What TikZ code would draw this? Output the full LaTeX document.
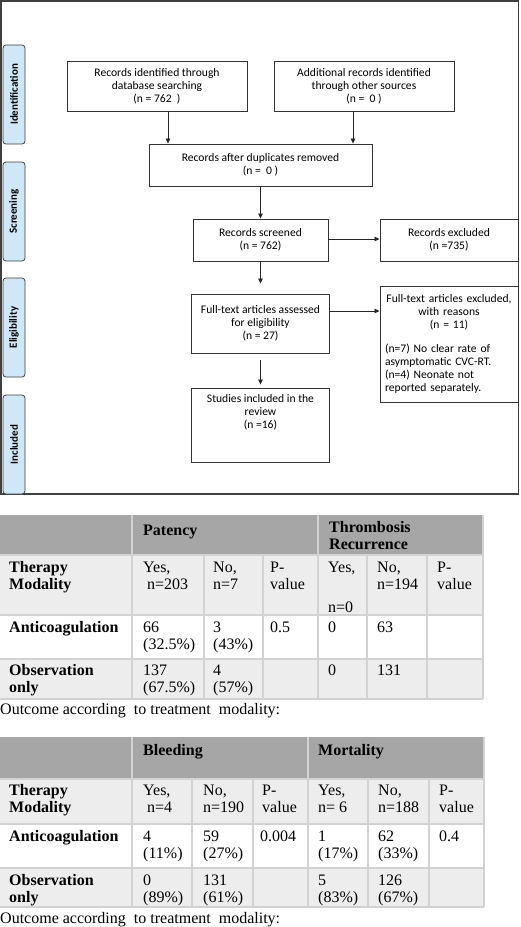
\documentclass[tikz,border=0pt]{standalone}
\usepackage{fontspec}
\setmainfont{Liberation Serif}
\newfontfamily\calib{Carlito}
\usetikzlibrary{arrows.meta}
\definecolor{hdr}{HTML}{A6A6A6}
\definecolor{lite}{HTML}{EDEDED}
\definecolor{sidefill}{HTML}{CFE8F8}
\definecolor{gridc}{HTML}{D2D2D2}
\newcommand\cl[1]{\begin{tabular}[t]{@{}l@{}}#1\end{tabular}}
\begin{document}
\begin{tikzpicture}[x=1pt,y=-1pt,
 box/.style={draw=black!80,line width=0.9pt,fill=white,inner sep=0pt,align=center,font=\calib\fontsize{11.6}{13}\selectfont},
 ftxt/.style={inner sep=0pt,align=center,font=\calib\fontsize{11.6}{13}\selectfont},
 sidelab/.style={draw=black!75,line width=0.8pt,fill=sidefill,rounded corners=3pt,rotate=90,inner sep=0pt,font=\calib\bfseries\fontsize{11}{12}\selectfont},
 arr/.style={-{Triangle[length=5pt,width=4.5pt]},line width=0.8pt,draw=black!85},
 cell/.style={anchor=base west,inner sep=0pt,font=\fontsize{16}{17}\selectfont},
 bcell/.style={cell,font=\bfseries\fontsize{16}{17}\selectfont},
 gline/.style={draw=gridc,line width=1.2pt},
]
\useasboundingbox (0,0) rectangle (520,927);
% outer frame
\draw[black!75,line width=1.2pt] (1,1) rectangle (518.5,494);
% side labels
\node[sidelab,minimum width=99pt,minimum height=22pt] (sid) at (14,94.5) {Identification};
\node[sidelab,minimum width=99pt,minimum height=22pt] (sscr) at (14,211.5) {Screening};
\node[sidelab,minimum width=99pt,minimum height=22pt] (selig) at (14,327.5) {Eligibility};
\node[sidelab,minimum width=99pt,minimum height=22pt] (sincl) at (14,444.5) {Included};
% boxes
\node[box,minimum width=180pt,minimum height=50pt] (b1) at (157,86) {Records identified through\\database searching\\(n = 762 \ )};
\node[box,minimum width=180pt,minimum height=50pt] (b2) at (364,86) {Additional records identified\\through other sources\\(n = \ 0 )};
\node[box,minimum width=223pt,minimum height=42pt] (b3) at (260.5,165) {Records after duplicates removed\\(n = \ 0 )};
\node[box,minimum width=135pt,minimum height=42pt] (b4) at (260.5,240) {Records screened\\(n = 762)};
\node[box,minimum width=138pt,minimum height=42pt] (b5) at (449,240) {Records excluded\\(n =735)};
\node[box,minimum width=138pt,minimum height=59pt] (b6) at (260.5,323.5) {Full-text articles assessed\\for eligibility\\(n = 27)};
\node[box,minimum width=138pt,minimum height=116pt,text width=128pt,align=left] (b7) at (449,344) {{\centering Full-text articles excluded,\\with reasons\\(n = 11)\par}\vspace{11pt}\raggedright (n=7) No clear rate of\\asymptomatic CVC-RT.\\(n=4) Neonate not\\reported separately.\par};
\node[box,minimum width=138pt,minimum height=74pt] (b8) at (260.5,425) {};
\node[ftxt,anchor=north] (b8t) at ([yshift=-7pt]b8.north) {Studies included in the\\review\\(n =16)};
% arrows
\draw[arr] ([xshift=11pt]b1.south) -- ([xshift=11pt]b1.south |- b3.north);
\draw[arr] ([xshift=-11pt]b2.south) -- ([xshift=-11pt]b2.south |- b3.north);
\draw[arr] (b3.south) -- (b4.north);
\draw[arr] ([yshift=1pt]b4.east) -- ([yshift=1pt]b4.east -| b5.west);
\draw[arr] (b4.south) -- ([yshift=10pt]b6.north);
\draw[arr] ([yshift=12.5pt]b6.east) -- ([yshift=12.5pt]b6.east -| b7.west);
\draw[arr] ([yshift=-7pt]b6.south) -- ([yshift=3pt]b8.north);
% ---------- table 1 ----------
\fill[hdr] (0,515) rectangle (483,555);
\fill[lite] (0,555) rectangle (483,615);
\fill[white] (0,615) rectangle (483,659);
\fill[lite] (0,659) rectangle (483,699);
\foreach \yy in {555,615,659,699} \draw[gline] (0,\yy) -- (483,\yy);
\foreach \xx in {132,204,263,318,367,427,483} \draw[gline] (\xx,555) -- (\xx,699);
\foreach \xx in {132,318,483} \draw[gline] (\xx,515) -- (\xx,555);
\node[bcell] (t1h1) at (143,535) {Patency};
\node[bcell] (t1h2) at (329,532) {\cl{Thrombosis\\Recurrence}};
\node[bcell] (t1r2a) at (9,572) {\cl{Therapy\\Modality}};
\node[cell] (t1r2b) at (143,572) {\cl{Yes,\\\hspace*{4pt}n=203}};
\node[cell] (t1r2c) at (213,572) {\cl{No,\\n=7}};
\node[cell] (t1r2d) at (270,572) {\cl{P-\\value}};
\node[cell] (t1r2e) at (328,572) {Yes,};
\node[cell] (t1r2e2) at (328,612) {n=0};
\node[cell] (t1r2f) at (377,572) {\cl{No,\\n=194}};
\node[cell] (t1r2g) at (437,572) {\cl{P-\\value}};
\node[bcell] (t1r3a) at (9,632) {Anticoagulation};
\node[cell] (t1r3b) at (143,632) {\cl{66\\(32.5\%)}};
\node[cell] (t1r3c) at (213,632) {\cl{3\\(43\%)}};
\node[cell] (t1r3d) at (270,632) {0.5};
\node[cell] (t1r3e) at (328,632) {0};
\node[cell] (t1r3f) at (377,632) {63};
\node[bcell] (t1r4a) at (9,675) {\cl{Observation\\only}};
\node[cell] (t1r4b) at (143,675) {\cl{137\\(67.5\%)}};
\node[cell] (t1r4c) at (213,675) {\cl{4\\(57\%)}};
\node[cell] (t1r4e) at (328,675) {0};
\node[cell] (t1r4f) at (377,675) {131};
\node[cell] (cap1) at (0,714) {Outcome according \ to treatment \ modality:};
% ---------- table 2 ----------
\fill[hdr] (0,737) rectangle (484,779);
\fill[lite] (0,779) rectangle (484,824);
\fill[white] (0,824) rectangle (484,868);
\fill[lite] (0,868) rectangle (484,907);
\foreach \yy in {779,824,868,907} \draw[gline] (0,\yy) -- (484,\yy);
\foreach \xx in {132,192,253,308,368,429,484} \draw[gline] (\xx,779) -- (\xx,907);
\foreach \xx in {132,308,484} \draw[gline] (\xx,737) -- (\xx,779);
\node[bcell] (t2h1) at (143,755) {Bleeding};
\node[bcell] (t2h2) at (318,755) {Mortality};
\node[bcell] (t2r2a) at (9,795) {\cl{Therapy\\Modality}};
\node[cell] (t2r2b) at (143,795) {\cl{Yes,\\\hspace*{4pt}n=4}};
\node[cell] (t2r2c) at (203,795) {\cl{No,\\n=190}};
\node[cell] (t2r2d) at (262,795) {\cl{P-\\value}};
\node[cell] (t2r2e) at (318,795) {\cl{Yes,\\n= 6}};
\node[cell] (t2r2f) at (378,795) {\cl{No,\\n=188}};
\node[cell] (t2r2g) at (439,795) {\cl{P-\\value}};
\node[bcell] (t2r3a) at (9,841) {Anticoagulation};
\node[cell] (t2r3b) at (143,841) {\cl{4\\(11\%)}};
\node[cell] (t2r3c) at (203,841) {\cl{59\\(27\%)}};
\node[cell] (t2r3d) at (260,841) {0.004};
\node[cell] (t2r3e) at (318,841) {\cl{1\\(17\%)}};
\node[cell] (t2r3f) at (378,841) {\cl{62\\(33\%)}};
\node[cell] (t2r3g) at (439,841) {0.4};
\node[bcell] (t2r4a) at (9,885) {\cl{Observation\\only}};
\node[cell] (t2r4b) at (143,885) {\cl{0\\(89\%)}};
\node[cell] (t2r4c) at (203,885) {\cl{131\\(61\%)}};
\node[cell] (t2r4e) at (318,885) {\cl{5\\(83\%)}};
\node[cell] (t2r4f) at (378,885) {\cl{126\\(67\%)}};
\node[cell] (cap2) at (0,923) {Outcome according \ to treatment \ modality:};
\end{tikzpicture}
\end{document}
